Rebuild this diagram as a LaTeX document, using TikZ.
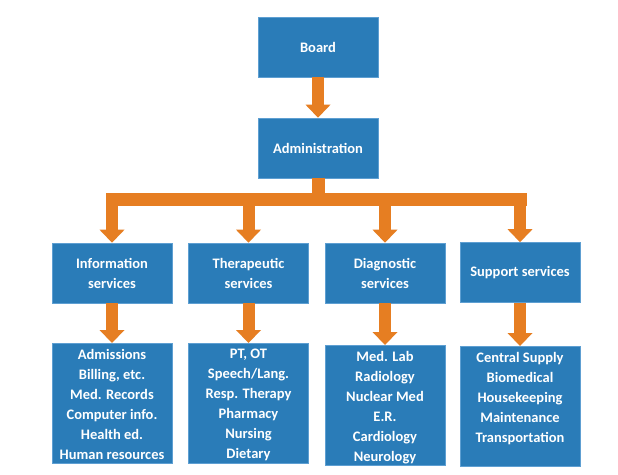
\documentclass[tikz,border=0pt]{standalone}
\usepackage{fontspec}
\setmainfont{Carlito}
\usepackage{xcolor}
\usetikzlibrary{arrows.meta}

\definecolor{boxblue}{HTML}{2A7CB8}
\definecolor{edgeblue}{HTML}{5E9FD2}
\definecolor{floworange}{HTML}{E67E22}

\tikzset{
  unitfont/.style={text=white, font=\bfseries\fontsize{14.5}{20}\selectfont, align=center},
  unitbox/.style={rectangle, fill=boxblue, draw=edgeblue, line width=0.6pt, unitfont,
    minimum width=120pt, minimum height=60pt, inner sep=0pt},
  listbox/.style={unitbox, minimum height=120pt, anchor=north},
  listtext/.style={unitfont, anchor=north, inner sep=0pt, yshift=-6pt},
  bus/.style={draw=floworange, line width=13pt},
  flow/.style={draw=floworange, line width=12pt, -{Triangle[width=25pt,length=13pt,line width=0pt]}}
}

\begin{document}
\begin{tikzpicture}[x=1pt,y=-1pt]
        \fill[white] (0,0) rectangle (618,474);
        \useasboundingbox (0,0) rectangle (618,474);

        \node[unitbox] (board) at (318,47) {Board};
        \node[unitbox] (admin) at (318,148) {Administration};

        \node[unitbox] (infosvc) at (112,273) {Information\\services};
        \node[unitbox] (thersvc) at (248.5,273) {Therapeutic\\services};
        \node[unitbox] (diagsvc) at (385,273) {Diagnostic\\services};
        \node[unitbox] (suppsvc) at (520,272.5) {Support services};

        \node[listbox] (infolist) at (112,343) {};
        \node[listbox] (therlist) at (248.5,343) {};
        \node[listbox] (diaglist) at (385,345) {};
        \node[listbox] (supplist) at (520,346) {};

        \node[listtext] at (infolist.north) {Admissions\\Billing, etc.\\Med. Records\\Computer info.\\Health ed.\\Human resources};
        \node[listtext] at (therlist.north) {PT, OT\\Speech/Lang.\\Resp. Therapy\\Pharmacy\\Nursing\\Dietary};
        \node[listtext] at (diaglist.north) {Med. Lab\\Radiology\\Nuclear Med\\E.R.\\Cardiology\\Neurology};
        \node[listtext] at (supplist.north) {Central Supply\\Biomedical\\Housekeeping\\Maintenance\\Transportation};

        \draw[flow] (board.south) -- (admin.north);

        \coordinate (busmid) at (318,199.5);
        \draw[bus] (admin.south) -- (busmid);
        \draw[bus, line cap=rect] (infosvc.north |- busmid) -- (suppsvc.north |- busmid);
        \draw[flow] (infosvc.north |- busmid) -- (infosvc.north);
        \draw[flow] (thersvc.north |- busmid) -- (thersvc.north);
        \draw[flow] (diagsvc.north |- busmid) -- (diagsvc.north);
        \draw[flow] (suppsvc.north |- busmid) -- (suppsvc.north);

        \draw[flow] (infosvc.south) -- (infolist.north);
        \draw[flow] (thersvc.south) -- (therlist.north);
        \draw[flow] (diagsvc.south) -- (diaglist.north);
        \draw[flow] (suppsvc.south) -- (supplist.north);
\end{tikzpicture}
\end{document}
